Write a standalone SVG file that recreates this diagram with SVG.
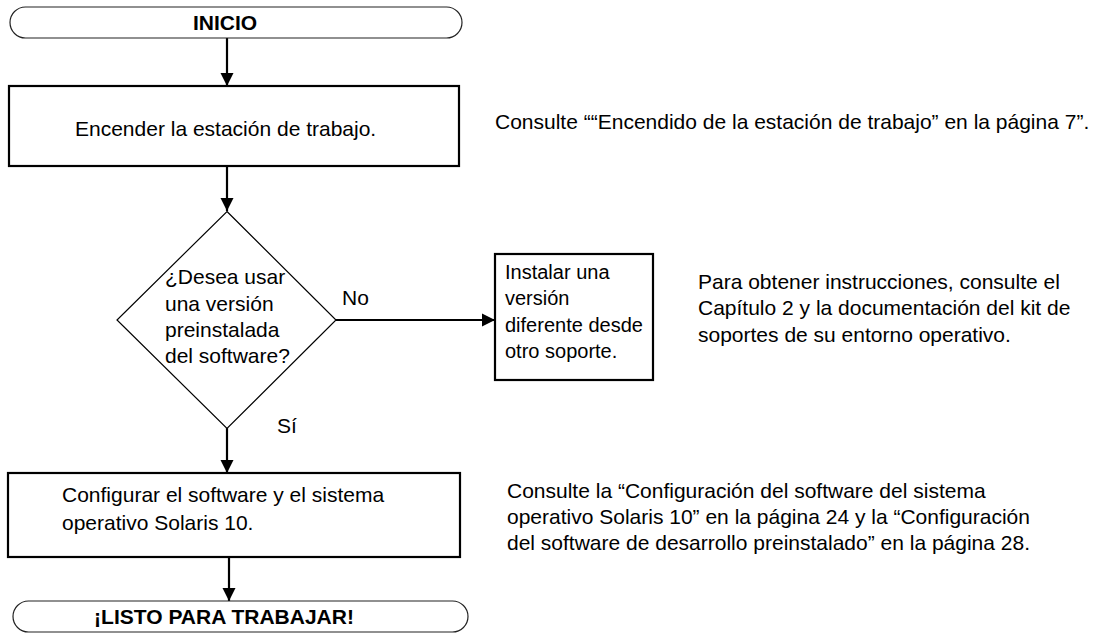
<svg xmlns="http://www.w3.org/2000/svg" width="1106" height="634" viewBox="0 0 1106 634">
<style>
text{font-family:"Liberation Sans",Arial,Helvetica,sans-serif;font-size:21px;fill:#000}
.b{font-weight:bold}
.s{font-size:20px}
.term{fill:#fff;stroke:#222;stroke-width:1.2}
.box{fill:#fff;stroke:#000;stroke-width:2.2}
.dia{fill:#fff;stroke:#000;stroke-width:1.2}
.con{stroke:#000;stroke-width:2.2;fill:none;marker-end:url(#ah)}
</style>
<defs>
<marker id="ah" markerUnits="userSpaceOnUse" markerWidth="14" markerHeight="14" refX="13" refY="7" orient="auto">
<path d="M0,0.5 L13,7 L0,13.5 Z" fill="#000"/>
</marker>
</defs>
<rect width="1106" height="634" fill="#fff"/>
<g id="connectors">
<line class="con" x1="227" y1="38" x2="227" y2="86"/>
<line class="con" x1="227" y1="166" x2="227" y2="211"/>
<line class="con" x1="336" y1="320" x2="495" y2="320"/>
<line class="con" x1="227" y1="428" x2="227" y2="473"/>
<line class="con" x1="229" y1="557" x2="229" y2="601"/>
</g>
<g id="inicio">
<rect class="term" x="10" y="7" width="452" height="31" rx="15.5"/>
<text class="b" x="225" y="30" text-anchor="middle">INICIO</text>
</g>
<g id="encender">
<rect class="box" x="9" y="86" width="450" height="80"/>
<text x="75" y="136">Encender la estación de trabajo.</text>
</g>
<g id="note1">
<text x="495" y="129">Consulte ““Encendido de la estación de trabajo” en la página 7”.</text>
</g>
<g id="decision">
<polygon class="dia" points="227,211.5 336,320 227,428.5 117,320"/>
<text x="165" y="284">¿Desea usar</text>
<text x="165" y="311">una versión</text>
<text x="165" y="337">preinstalada</text>
<text x="165" y="363">del software?</text>
<text x="342" y="305">No</text>
<text x="277" y="433">Sí</text>
</g>
<g id="instalar">
<rect class="box" x="495" y="254" width="158" height="126"/>
<text class="s" x="505" y="279">Instalar una</text>
<text class="s" x="505" y="305">versión</text>
<text class="s" x="505" y="332">diferente desde</text>
<text class="s" x="505" y="358">otro soporte.</text>
</g>
<g id="note2">
<text x="698" y="289">Para obtener instrucciones, consulte el</text>
<text x="698" y="315">Capítulo 2 y la documentación del kit de</text>
<text x="698" y="342">soportes de su entorno operativo.</text>
</g>
<g id="configurar">
<rect class="box" x="8" y="473" width="452" height="84"/>
<text x="62" y="502">Configurar el software y el sistema</text>
<text x="62" y="530">operativo Solaris 10.</text>
</g>
<g id="note3">
<text x="507" y="498">Consulte la “Configuración del software del sistema</text>
<text x="507" y="524">operativo Solaris 10” en la página 24 y la “Configuración</text>
<text x="507" y="550">del software de desarrollo preinstalado” en la página 28.</text>
</g>
<g id="listo">
<rect class="term" x="13" y="601" width="455" height="31" rx="15.5"/>
<text class="b" x="224" y="624" text-anchor="middle">¡LISTO PARA TRABAJAR!</text>
</g>
</svg>
